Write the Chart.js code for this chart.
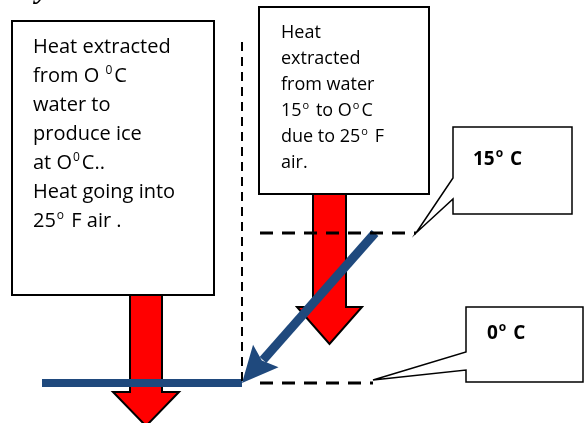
<!DOCTYPE html>
<html>
<head>
<meta charset="utf-8">
<script src="https://cdn.jsdelivr.net/npm/chart.js@4"></script>
<style>
  html, body { margin: 0; padding: 0; background: #fff; }
  canvas { display: block; }
</style>
</head>
<body>
<canvas id="chart" width="585" height="423"></canvas>
<script>
// box texts, "^" puts the next char in superscript
let leftText = ["Heat extracted", "from O ^0C", "water to", "produce ice", "at O^0C..", "Heat going into", "25^o F air ."];
let rightText = ["Heat", "extracted", "from water", "15^o to O^oC", "due to 25^o F", "air."];
let levelLabels = ["15^o C", "0^o C"];

// diagram lines, page units (x right, y down)
let dividerX = [242, 242];
let dividerY = [42, 383];
let level15X = [260, 416];
let level15Y = [233, 233];
let level0X = [260, 373];
let level0Y = [383, 383];
let iceX = [42, 242];
let iceY = [383, 383];
let coolX = [375, 263];
let coolY = [233, 360];

const BLUE = "#1F497D";
const FONT = '"Open Sans", "Liberation Sans", sans-serif';

function pts(xs, ys) {
  return xs.map((x, i) => ({ x: x, y: ys[i] }));
}

function line(xs, ys, color, width, dash) {
  return {
    data: pts(xs, ys),
    showLine: true,
    borderColor: color,
    borderWidth: width,
    borderDash: dash || [],
    borderCapStyle: "butt",
    pointRadius: 0,
    fill: false,
  };
}

function richText(c, str, x, y, size, weight) {
  let run = "";
  let flush = () => {
    c.font = `${weight} ${size}px ${FONT}`;
    c.fillText(run, x, y);
    x += c.measureText(run).width;
    run = "";
  };
  for (let i = 0; i < str.length; i++) {
    if (str[i] == "^") {
      flush();
      let s = Math.round(size * 0.62);
      c.font = `${weight} ${s}px ${FONT}`;
      c.fillText(str[i + 1], x + 1, y - size * 0.4);
      x += c.measureText(str[i + 1]).width + 3;
      i++;
    } else {
      run += str[i];
    }
  }
  flush();
}

function poly(c, p, fill, stroke, width) {
  c.beginPath();
  c.moveTo(p[0][0], p[0][1]);
  for (let i = 1; i < p.length; i++) c.lineTo(p[i][0], p[i][1]);
  c.closePath();
  if (fill) {
    c.fillStyle = fill;
    c.fill();
  }
  c.lineWidth = width;
  c.strokeStyle = stroke;
  c.lineJoin = "miter";
  c.stroke();
}

// red block arrow pointing down
function redArrow(c, X, Y, l, r, top, base, hl, hr, tip) {
  let mid = (hl + hr) / 2;
  poly(c, [
    [X(l), Y(top)], [X(r), Y(top)], [X(r), Y(base)], [X(hr), Y(base)],
    [X(mid), Y(tip)], [X(hl), Y(base)], [X(l), Y(base)],
  ], "#FF0000", "#000", 2);
}

const diagram = {
  id: "diagram",
  beforeDatasetsDraw(chart) {
    const c = chart.ctx;
    const X = (v) => chart.scales.x.getPixelForValue(v);
    const Y = (v) => chart.scales.y.getPixelForValue(v);
    c.save();
    // tail of a heading letter cut by the top edge
    c.fillStyle = "#000";
    c.font = 'bold italic 30px "Liberation Serif", serif';
    c.textBaseline = "alphabetic";
    c.fillText("y", X(36), Y(-2));

    // text boxes
    poly(c, [[X(12), Y(21)], [X(214), Y(21)], [X(214), Y(295)], [X(12), Y(295)]], "#fff", "#000", 2);
    poly(c, [[X(259), Y(7)], [X(429), Y(7)], [X(429), Y(194)], [X(259), Y(194)]], "#fff", "#000", 2);
    c.fillStyle = "#000";
    leftText.forEach((t, i) => richText(c, t, X(33), Y(53 + 29 * i), 20, "normal"));
    c.fillStyle = "#000";
    rightText.forEach((t, i) => richText(c, t, X(281), Y(38 + 26 * i), 18, "normal"));

    // heat flow arrows
    redArrow(c, X, Y, 130, 162, 295, 392, 113, 179, 426);
    redArrow(c, X, Y, 313, 346, 194, 307, 297, 362, 344);
    c.restore();
  },
  afterDatasetsDraw(chart) {
    const c = chart.ctx;
    const X = (v) => chart.scales.x.getPixelForValue(v);
    const Y = (v) => chart.scales.y.getPixelForValue(v);
    c.save();
    // head of the cooling arrow
    let tx = X(dividerX[1]), ty = Y(dividerY[1]);
    let dx = X(coolX[1]) - X(coolX[0]), dy = Y(coolY[1]) - Y(coolY[0]);
    let len = Math.hypot(dx, dy);
    let ux = dx / len, uy = dy / len;
    let bx = tx - ux * 36, by = ty - uy * 36;
    let nx = bx + ux * 6, ny = by + uy * 6;
    c.beginPath();
    c.moveTo(tx, ty);
    c.lineTo(bx - uy * 17, by + ux * 17);
    c.lineTo(nx, ny);
    c.lineTo(bx + uy * 17, by - ux * 17);
    c.closePath();
    c.fillStyle = BLUE;
    c.fill();

    // level callouts
    poly(c, [[X(453), Y(127)], [X(572), Y(127)], [X(572), Y(214)], [X(453), Y(214)],
      [X(453), Y(199)], [X(level15X[1]), Y(level15Y[1])], [X(453), Y(178)]], "#fff", "#000", 1.5);
    poly(c, [[X(466), Y(307)], [X(583), Y(307)], [X(583), Y(382)], [X(466), Y(382)],
      [X(466), Y(370)], [X(level0X[1]), Y(level0Y[1] - 3)], [X(466), Y(352)]], "#fff", "#000", 1.5);
    c.fillStyle = "#000";
    richText(c, levelLabels[0], X(473), Y(165), 19, "bold");
    richText(c, levelLabels[1], X(487), Y(339), 19, "bold");
    c.restore();
  },
};

new Chart(document.getElementById("chart"), {
  type: "scatter",
  data: {
    datasets: [
      line(dividerX, dividerY, "#000", 2, [9, 6]),
      line(level15X, level15Y, "#000", 3, [13, 9]),
      line(level0X, level0Y, "#000", 3, [13, 9]),
      line(iceX, iceY, BLUE, 8),
      line(coolX, coolY, BLUE, 9),
    ],
  },
  options: {
    responsive: false,
    animation: false,
    layout: { padding: 0 },
    plugins: { legend: { display: false }, tooltip: { enabled: false } },
    scales: {
      x: { type: "linear", min: 0, max: 585, display: false },
      y: { type: "linear", min: 0, max: 423, reverse: true, display: false },
    },
  },
  plugins: [diagram],
});
</script>
</body>
</html>
